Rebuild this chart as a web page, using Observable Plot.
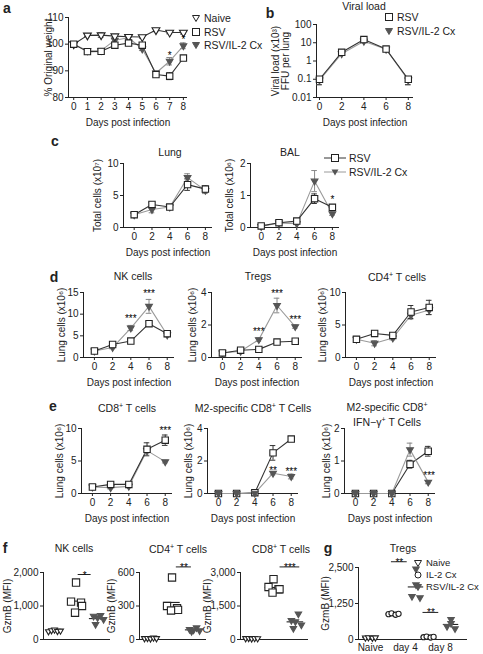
<!DOCTYPE html>
<html><head><meta charset="utf-8">
<script src="https://cdn.jsdelivr.net/npm/d3@7"></script>
<script src="https://cdn.jsdelivr.net/npm/@observablehq/plot@0.6"></script>
<style>
body{margin:0;background:#fff;font-family:"Liberation Sans",Arial,Helvetica,sans-serif;}
#fig{position:relative;width:483px;height:654px;overflow:hidden;background:#fff;}
.t{position:absolute;white-space:nowrap;color:#222;font-size:10.5px;line-height:12px;text-align:center;transform:translate(-50%,-50%);}
.letter{font-weight:bold;font-size:14px;}
.leg{position:absolute;white-space:nowrap;color:#222;font-size:10.5px;line-height:12px;display:flex;align-items:center;gap:3px;transform:translateY(-50%);}
</style></head><body><div id="fig"></div>
<script>
// ---------------- DATA ----------------
const seriesNames = ["Naive", "RSV", "RSV/IL-2 Cx"];
// a: body weight
const weightDays = [0,1,2,3,4,5,6,7,8];
const weightNaive = [100,103.3,103.4,103.0,102.8,102.7,105.3,104.4,104.4];
const weightNaiveErr = [0.3,0.5,0.8,0.5,0.5,0.4,0.6,0.5,0.6];
const weightRSV = [100,97.2,97.3,99.6,100.4,99.6,88.6,88.0,94.8];
const weightRSVErr = [0.3,0.6,0.5,0.5,0.6,0.7,0.6,1.3,0.7];
const weightIL2 = [100,97.5,97.6,101.5,102.4,98.2,89.2,93.6,99.4];
const weightIL2Err = [0.3,0.5,0.5,0.6,0.6,0.6,0.6,1.4,1.1];
const weightStars = [{x:7,y:96.9,t:"*"},{x:8,y:102.6,t:"*"}];
// b: viral load
const days5 = [0,2,4,6,8];
const viralRSV = [0.1,3.0,15,4.5,0.1];
const viralRSVLo = [0.05,2.6,12,4.0,0.05];
const viralRSVHi = [0.12,3.5,18,5.0,0.13];
const viralIL2 = [0.09,2.5,12,4.4,0.09];
const viralIL2Lo = [0.05,2.2,10,3.9,0.05];
const viralIL2Hi = [0.11,2.9,14,4.9,0.11];
// c: total cells
const lungRSV = [2.0,3.6,3.2,6.7,6.0], lungRSVErr = [0.2,0.3,0.2,0.9,0.5];
const lungIL2 = [2.0,2.8,3.2,7.8,5.8], lungIL2Err = [0.2,0.5,0.2,0.6,0.5];
const balRSV = [0.05,0.15,0.2,0.9,0.63], balRSVErr = [0.02,0.03,0.04,0.15,0.05];
const balIL2 = [0.03,0.14,0.12,1.45,0.43], balIL2Err = [0.02,0.03,0.03,0.33,0.05];
const balStars = [{x:8,y:0.95,t:"*"}];
// d: lung cells
const nkRSV = [1.5,3.0,3.8,7.8,5.5], nkRSVErr = [0.3,0.3,0.3,0.5,0.4];
const nkIL2 = [1.5,2.3,6.8,11.8,5.2], nkIL2Err = [0.3,0.3,0.6,1.6,0.4];
const nkStars = [{x:4,y:9.6,t:"***"},{x:6,y:15.4,t:"***"}];
const tregRSV = [0.28,0.45,0.5,0.95,1.0], tregRSVErr = [0.05,0.05,0.05,0.05,0.05];
const tregIL2 = [0.28,0.38,1.1,3.2,1.9], tregIL2Err = [0.05,0.05,0.1,0.45,0.1];
const tregStars = [{x:4,y:1.75,t:"***"},{x:6,y:4.1,t:"***"},{x:8,y:2.5,t:"***"}];
const cd4RSV = [2.8,3.7,3.4,7.0,7.7], cd4RSVErr = [0.2,0.4,0.3,1.0,1.1];
const cd4IL2 = [2.8,2.2,3.0,6.5,7.3], cd4IL2Err = [0.2,0.4,0.3,0.6,0.7];
// e
const cd8RSV = [1.0,1.4,1.4,6.8,8.2], cd8RSVErr = [0.1,0.4,0.3,1.0,0.8];
const cd8IL2 = [1.0,0.9,1.1,6.6,4.9], cd8IL2Err = [0.1,0.2,0.2,0.5,0.2];
const cd8Stars = [{x:8,y:10.1,t:"***"}];
const m2RSV = [0,0,0.05,2.5,3.35], m2RSVErr = [0.02,0.02,0.03,0.45,0.15];
const m2IL2 = [0,0,0.02,1.25,1.05], m2IL2Err = [0.02,0.02,0.02,0.1,0.15];
const m2Stars = [{x:6,y:1.6,t:"**"},{x:8,y:1.5,t:"***"}];
const ifnRSV = [0,0,0,0.9,1.3], ifnRSVErr = [0.02,0.02,0.02,0.12,0.15];
const ifnIL2 = [0,0,0,1.35,0.35], ifnIL2Err = [0.02,0.02,0.02,0.2,0.05];
const ifnStars = [{x:8.1,y:0.65,t:"***"}];
// f: GzmB MFI (groups: Naive, RSV, RSV/IL-2 Cx)
const nkGzmB = [[240,270,290,250,260],[1700,1130,1100,1000,800],[720,700,650,600,450]];
const cd4GzmB = [[10,12,8,15,10],[555,300,280,265,260],[105,90,85,80,72]];
const cd8GzmB = [[50,60,40,55,45],[2700,2350,2250,2250,2100],[1150,850,800,650,500]];
const nkSig = [{from:1.1,to:1.7,y:1940,t:"*"}];
const cd4Sig = [{from:1.2,to:1.9,y:650,t:"**"}];
const cd8Sig = [{from:1.3,to:2.2,y:3250,t:"***"}];
// g: Tregs GzmB
const gLabels = ["Naive","day 4","day 8"];
const gNames = ["Naive","IL-2 Cx","RSV/IL-2 Cx"];
const tregNaive = [60,70,55,65];
const tregIL2CxDay4 = [880,910,860,890];
const tregRSVIL2Day4 = [2450,1900,1500,1450];
const tregIL2CxDay8 = [80,100,70,90];
const tregRSVIL2Day8 = [700,560,450,380];
const gSig = [{from:0.6,to:1.05,y:2700,t:"**"},{from:1.5,to:1.95,y:940,t:"**"}];

// ---------------- HELPERS ----------------
const fig = document.getElementById("fig");
const FONT = '"Liberation Sans", Arial, Helvetica, sans-serif';
const ML = 60, MR = 16, MT = 16, MB = 36;
const INK = "#222";
const triDown = {draw(ctx, size){const s=Math.sqrt(size*4/Math.sqrt(3));const h=s*Math.sqrt(3)/2;ctx.moveTo(-s/2,-h/3);ctx.lineTo(s/2,-h/3);ctx.lineTo(0,2*h/3);ctx.closePath();}};
const ST_RSV = {line:"#333", err:"#333", sym:"square", r:3.6, fill:"white", stroke:INK};
const ST_IL2 = {line:"#9a9a9a", err:"#888", sym:triDown, r:2.5, fill:"#555", stroke:"#555"};
const ST_NAIVE = {line:"#333", err:"#333", sym:triDown, r:2.9, fill:"white", stroke:INK};

function txt(x, y, html, cls="") {
  const d = document.createElement("div");
  d.className = "t " + cls; d.style.left = x + "px"; d.style.top = y + "px"; d.innerHTML = html;
  fig.appendChild(d);
}
function symSvg(kind) {
  const tri = "1.5,2.5 8.5,2.5 5,8.5";
  if (kind === "triOpen") return `<svg width="10" height="10"><polygon points="${tri}" fill="white" stroke="${INK}"/></svg>`;
  if (kind === "triFill") return `<svg width="10" height="10"><polygon points="${tri}" fill="#555" stroke="#555"/></svg>`;
  if (kind === "square") return `<svg width="10" height="10"><rect x="1.5" y="1.5" width="7" height="7" fill="white" stroke="${INK}"/></svg>`;
  if (kind === "circle") return `<svg width="10" height="10"><circle cx="5" cy="5" r="3" fill="white" stroke="${INK}"/></svg>`;
  if (kind === "lineSquare") return `<svg width="22" height="10"><line x1="0" x2="22" y1="5" y2="5" stroke="#333"/><rect x="7.5" y="1.5" width="7" height="7" fill="white" stroke="${INK}"/></svg>`;
  if (kind === "lineTri") return `<svg width="22" height="10"><line x1="0" x2="22" y1="5" y2="5" stroke="#9a9a9a"/><polygon points="7.5,2.5 14.5,2.5 11,8.5" fill="#555"/></svg>`;
}
function legend(x, y, items, dy, size) {
  items.forEach((it, i) => {
    const d = document.createElement("div");
    d.className = "leg"; d.style.left = x + "px"; d.style.top = (y + i*dy) + "px";
    if (size) d.style.fontSize = size + "px";
    d.innerHTML = symSvg(it.sym) + `<span>${it.label}</span>`;
    fig.appendChild(d);
  });
}
function mount(svg, fx, fy) {
  svg.style.position = "absolute"; svg.style.left = (fx - ML) + "px"; svg.style.top = (fy - MT) + "px";
  svg.style.overflow = "visible"; fig.appendChild(svg);
}
function withErr(x, y, e) { return x.map((d,i)=>({x:d, y:y[i], lo:y[i]-e[i], hi:y[i]+e[i]})); }
function withLoHi(x, y, lo, hi) { return x.map((d,i)=>({x:d, y:y[i], lo:lo[i], hi:hi[i]})); }
const baseStyle = {fontFamily:FONT, fontSize:"9.5px", color:INK, background:"transparent", overflow:"visible"};

function linePanel(c) {
  const ppu = c.fw / (c.xDomain[1]-c.xDomain[0]);
  const cap = 2.8 / ppu;
  const marks = [
    Plot.ruleX([c.xDomain[0]], {stroke:INK}),
    Plot.ruleY([c.yDomain[0]], {stroke:INK}),
    Plot.axisY({ticks:c.yTicks, tickSize:3, tickPadding:2, tickFormat:c.yFormat || (d=>String(d)), label:c.yLabel, labelAnchor:"center", labelOffset:c.yLabelOffset, labelArrow:"none", fontSize:10}),
    Plot.axisX({ticks:c.xTicks, tickSize:3, tickPadding:2, tickFormat:d=>String(d), label:"Days post infection", labelAnchor:"center", labelOffset:28, labelArrow:"none", fontSize:10})
  ];
  for (const s of c.series) marks.push(Plot.line(s.rows, {x:"x", y:"y", stroke:s.st.line, strokeWidth:1.1}));
  for (const s of c.series) {
    marks.push(Plot.ruleX(s.rows, {x:"x", y1:"lo", y2:"hi", stroke:s.st.err}));
    marks.push(Plot.ruleY(s.rows, {y:"hi", x1:d=>d.x-cap, x2:d=>d.x+cap, stroke:s.st.err}));
    marks.push(Plot.ruleY(s.rows, {y:"lo", x1:d=>d.x-cap, x2:d=>d.x+cap, stroke:s.st.err}));
  }
  for (const s of c.series) marks.push(Plot.dot(s.rows, {x:"x", y:"y", symbol:s.st.sym, r:s.st.r, fill:s.st.fill, stroke:s.st.stroke, strokeWidth:1.1}));
  if (c.stars) marks.push(Plot.text(c.stars, {x:"x", y:"y", text:"t", fontSize:10, dy:3, fill:"black"}));
  const svg = Plot.plot({width:c.fw+ML+MR, height:c.fh+MT+MB, marginLeft:ML, marginRight:MR, marginTop:MT, marginBottom:MB,
    x:{domain:c.xDomain}, y:{domain:c.yDomain, type:c.yType || "linear"}, style:baseStyle, marks});
  mount(svg, c.fx, c.fy);
}

function scatterPanel(c) {
  const ppu = c.fw / (c.xDomain[1]-c.xDomain[0]);
  const marks = [
    Plot.ruleX([c.xDomain[0]], {stroke:INK}),
    Plot.ruleY([0], {stroke:INK}),
    Plot.axisY({ticks:c.yTicks, tickSize:3, tickPadding:2, tickFormat:d3.format(","), label:"GzmB (MFI)", labelAnchor:"center", labelOffset:c.yLabelOffset, labelArrow:"none", fontSize:10})
  ];
  if (c.xLabels) marks.push(Plot.axisX({ticks:[0,1,2], tickSize:0, tickPadding:4, tickFormat:i=>c.xLabels[i], label:null, fontSize:10}));
  for (const g of c.groups) {
    const rows = g.values.map((v,i)=>({x:g.pos + g.jitter[i]/ppu, v}));
    const m = d3.mean(g.values);
    marks.push(Plot.ruleY([m], {x1:g.pos-c.half, x2:g.pos+c.half, stroke:INK, strokeWidth:1.1}));
    marks.push(Plot.dot(rows, {x:"x", y:"v", symbol:g.st.sym, r:g.st.r, fill:g.st.fill, stroke:g.st.stroke, strokeWidth:1.1}));
  }
  marks.push(Plot.ruleY(c.sig, {y:"y", x1:"from", x2:"to", stroke:INK}));
  marks.push(Plot.text(c.sig, {x:d=>(d.from+d.to)/2, y:"y", text:"t", fontSize:10, lineAnchor:"bottom", dy:4, fill:"black"}));
  const svg = Plot.plot({width:c.fw+ML+MR, height:c.fh+MT+MB, marginLeft:ML, marginRight:MR, marginTop:MT, marginBottom:MB,
    x:{domain:c.xDomain, axis: c.xLabels ? undefined : null}, y:{domain:c.yDomain}, style:baseStyle, marks});
  mount(svg, c.fx, c.fy);
}

// ---------------- PANELS ----------------
// a
linePanel({fx:68, fy:17, fw:119, fh:80, xDomain:[-0.38,8.3], xTicks:weightDays, yDomain:[80,110], yTicks:[80,90,100,110],
  yLabel:"% Original weight", yLabelOffset:24,
  series:[{rows:withErr(weightDays,weightIL2,weightIL2Err), st:ST_IL2},{rows:withErr(weightDays,weightNaive,weightNaiveErr), st:ST_NAIVE},{rows:withErr(weightDays,weightRSV,weightRSVErr), st:ST_RSV}],
  stars:weightStars});
// b
linePanel({fx:316, fy:24, fw:97, fh:73, xDomain:[-0.27,8.47], xTicks:days5, yDomain:[0.01,100], yType:"log", yTicks:[0.01,0.1,1,10,100],
  yLabel:"Viral load (x10³)\nFFU per lung", yLabelOffset:45,
  series:[{rows:withLoHi(days5,viralIL2,viralIL2Lo,viralIL2Hi), st:ST_IL2},{rows:withLoHi(days5,viralRSV,viralRSVLo,viralRSVHi), st:ST_RSV}]});
// c
const dDom = [-1.2, 8.8];
linePanel({fx:123, fy:163, fw:89, fh:64, xDomain:dDom, xTicks:days5, yDomain:[0,10], yTicks:[0,5,10],
  yLabel:"Total cells (x10⁷)", yLabelOffset:30,
  series:[{rows:withErr(days5,lungIL2,lungIL2Err), st:ST_IL2},{rows:withErr(days5,lungRSV,lungRSVErr), st:ST_RSV}]});
linePanel({fx:250, fy:163, fw:89, fh:64, xDomain:dDom, xTicks:days5, yDomain:[0,2], yTicks:[0,1,2],
  yLabel:"Total cells (x10⁶)", yLabelOffset:25,
  series:[{rows:withErr(days5,balIL2,balIL2Err), st:ST_IL2},{rows:withErr(days5,balRSV,balRSVErr), st:ST_RSV}], stars:balStars});
// d
linePanel({fx:83, fy:292, fw:91, fh:65, xDomain:dDom, xTicks:days5, yDomain:[0,15], yTicks:[0,5,10,15],
  yLabel:"Lung cells (x10⁶)", yLabelOffset:26,
  series:[{rows:withErr(days5,nkIL2,nkIL2Err), st:ST_IL2},{rows:withErr(days5,nkRSV,nkRSVErr), st:ST_RSV}], stars:nkStars});
linePanel({fx:211, fy:292, fw:91, fh:65, xDomain:dDom, xTicks:days5, yDomain:[0,4], yTicks:[0,2,4],
  yLabel:"Lung cells (x10⁶)", yLabelOffset:23,
  series:[{rows:withErr(days5,tregIL2,tregIL2Err), st:ST_IL2},{rows:withErr(days5,tregRSV,tregRSVErr), st:ST_RSV}], stars:tregStars});
linePanel({fx:345, fy:292, fw:91, fh:65, xDomain:dDom, xTicks:days5, yDomain:[0,10], yTicks:[0,5,10],
  yLabel:"Lung cells (x10⁶)", yLabelOffset:27,
  series:[{rows:withErr(days5,cd4IL2,cd4IL2Err), st:ST_IL2},{rows:withErr(days5,cd4RSV,cd4RSVErr), st:ST_RSV}]});
// e
linePanel({fx:81, fy:428, fw:91, fh:65, xDomain:dDom, xTicks:days5, yDomain:[0,10], yTicks:[0,5,10],
  yLabel:"Lung cells (x10⁶)", yLabelOffset:26,
  series:[{rows:withErr(days5,cd8IL2,cd8IL2Err), st:ST_IL2},{rows:withErr(days5,cd8RSV,cd8RSVErr), st:ST_RSV}], stars:cd8Stars});
linePanel({fx:207, fy:428, fw:91, fh:65, xDomain:dDom, xTicks:days5, yDomain:[0,4], yTicks:[0,2,4],
  yLabel:"Lung cells (x10⁶)", yLabelOffset:23,
  series:[{rows:withErr(days5,m2RSV,m2RSVErr), st:ST_RSV},{rows:withErr(days5,m2IL2,m2IL2Err), st:ST_IL2}], stars:m2Stars});
linePanel({fx:344, fy:428, fw:91, fh:65, xDomain:dDom, xTicks:days5, yDomain:[0,2], yTicks:[0,1,2],
  yLabel:"Lung cells (x10⁶)", yLabelOffset:22,
  series:[{rows:withErr(days5,ifnRSV,ifnRSVErr), st:ST_RSV},{rows:withErr(days5,ifnIL2,ifnIL2Err), st:ST_IL2}], stars:ifnStars});
// f
const F_NAIVE = {sym:triDown, r:2.2, fill:"white", stroke:INK};
const F_RSV = {sym:"square", r:4.1, fill:"white", stroke:INK};
const F_IL2 = {sym:triDown, r:2.4, fill:"#555", stroke:"#555"};
const jitNaive = [-6,-3,0,3,6], jitA = [0,-5,5,6,-1], jitB = [3,-4,0,6,-2];
const fDom = [-0.51, 2.6];
function fGroups(vals) { return [{pos:0, values:vals[0], st:F_NAIVE, jitter:jitNaive},{pos:1, values:vals[1], st:F_RSV, jitter:jitA},{pos:2, values:vals[2], st:F_IL2, jitter:jitB}]; }
scatterPanel({fx:43, fy:572, fw:67, fh:67, xDomain:fDom, yDomain:[0,2000], yTicks:[0,1000,2000], yLabelOffset:40, half:0.38, groups:fGroups(nkGzmB), sig:nkSig});
scatterPanel({fx:139, fy:572, fw:67, fh:67, xDomain:fDom, yDomain:[0,600], yTicks:[0,300,600], yLabelOffset:32, half:0.38, groups:fGroups(cd4GzmB), sig:cd4Sig});
scatterPanel({fx:240, fy:572, fw:68, fh:67, xDomain:fDom, yDomain:[0,3000], yTicks:[0,1500,3000], yLabelOffset:37, half:0.38, groups:fGroups(cd8GzmB), sig:cd8Sig});
// g
const G_CIRC = {sym:"circle", r:2.6, fill:"white", stroke:INK};
const jit4 = [-5,-2,2,5], jitT = [0,0,-4,4];
scatterPanel({fx:358, fy:567, fw:109, fh:72, xDomain:[-0.34,2.77], yDomain:[0,2500], yTicks:[0,1250,2500], yLabelOffset:37, half:0.22, xLabels:gLabels,
  groups:[{pos:0, values:tregNaive, st:F_NAIVE, jitter:jit4},
          {pos:1-0.34, values:tregIL2CxDay4, st:G_CIRC, jitter:jit4},
          {pos:1+0.3, values:tregRSVIL2Day4, st:F_IL2, jitter:jitT},
          {pos:2-0.34, values:tregIL2CxDay8, st:G_CIRC, jitter:jit4},
          {pos:2+0.3, values:tregRSVIL2Day8, st:F_IL2, jitter:jitT}], sig:gSig});

// ---------------- TEXT: letters, titles, legends ----------------
txt(7,8,"a","letter"); txt(270,13,"b","letter"); txt(55,141,"c","letter"); txt(54,277,"d","letter");
txt(53,406,"e","letter"); txt(5,548,"f","letter"); txt(328,548,"g","letter");
txt(364,6,"Viral load");
txt(170,152,"Lung"); txt(290,152,"BAL");
txt(133,276,"NK cells"); txt(258,276,"Tregs"); txt(397,276,"CD4<sup style='font-size:7px'>+</sup> T cells");
txt(127,407,"CD8<sup style='font-size:7px'>+</sup> T cells"); txt(253,407,"M2-specific CD8<sup style='font-size:7px'>+</sup> T Cells");
txt(387,413,"M2-specific CD8<sup style='font-size:7px'>+</sup><br>IFN−γ<sup style='font-size:7px'>+</sup> T Cells");
txt(74,548,"NK cells"); txt(178,548,"CD4<sup style='font-size:7px'>+</sup> T cells"); txt(281,548,"CD8<sup style='font-size:7px'>+</sup> T cells");
txt(403,548,"Tregs");
legend(191,18,[{sym:"triOpen",label:seriesNames[0]},{sym:"square",label:seriesNames[1]},{sym:"triFill",label:seriesNames[2]}],13.5);
legend(384,17,[{sym:"square",label:seriesNames[1]},{sym:"triFill",label:seriesNames[2]}],14);
legend(324,158,[{sym:"lineSquare",label:seriesNames[1]},{sym:"lineTri",label:seriesNames[2]}],14);
legend(413,563,[{sym:"triOpen",label:gNames[0]},{sym:"circle",label:gNames[1]},{sym:"triFill",label:gNames[2]}],12,9.5);
</script></body></html>
